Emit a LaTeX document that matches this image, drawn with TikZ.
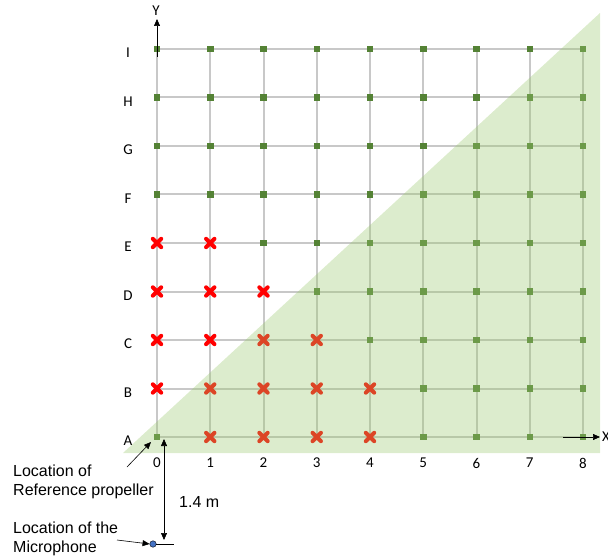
\documentclass[tikz,border=0pt]{standalone}
\usepackage{fontspec}
\setmainfont{Carlito}
\newfontfamily\arialf{Liberation Sans}
\usetikzlibrary{arrows.meta}
\definecolor{gridgray}{RGB}{200,200,200}
\definecolor{ptgreen}{RGB}{84,130,53}
\definecolor{trigreen}{RGB}{155,200,111}
\definecolor{xred}{RGB}{255,0,0}
\definecolor{micblue}{RGB}{68,114,196}
\tikzset{
  gridline/.style={draw=gridgray, line width=2pt},
  gpt/.style={rectangle, fill=ptgreen, minimum size=6.5pt, inner sep=0pt},
  xbox/.style={rectangle, inner sep=0pt, minimum size=8pt},
  xstroke/.style={draw=xred, line width=4pt, line cap=round},
  axislbl/.style={font=\fontsize{15}{17}\selectfont},
  annot/.style={font=\arialf\fontsize{16}{19}\selectfont, anchor=base west, inner sep=0pt},
  arr/.style={draw=black, line width=0.6pt, -{Triangle[length=7pt,width=6pt]}},
}
\begin{document}
\begin{tikzpicture}[x=1pt,y=-1pt]
\useasboundingbox (0,0) rectangle (608,556);
% grid coordinates
\foreach \c in {0,...,8}{
  \foreach \r in {0,...,8}{
    \coordinate (p-\c-\r) at ({157+53.25*\c},{437-48.5*\r});
  }
}
% grid lines
\foreach \c in {0,...,8}{ \draw[gridline] (p-\c-0) -- (p-\c-8); }
\foreach \r in {0,...,8}{ \draw[gridline] (p-0-\r) -- (p-8-\r); }
% green points
\foreach \c/\r in {0/0,5/0,6/0,7/0,8/0,
  5/1,6/1,7/1,8/1,
  4/2,5/2,6/2,7/2,8/2,
  3/3,4/3,5/3,6/3,7/3,8/3,
  2/4,3/4,4/4,5/4,6/4,7/4,8/4}{
  \node[gpt] (g-\c-\r) at (p-\c-\r) {};
}
\foreach \r in {5,6,7,8}{
  \foreach \c in {0,...,8}{ \node[gpt] (g-\c-\r) at (p-\c-\r) {}; }
}
% red crosses
\foreach \c/\r in {0/4,1/4,0/3,1/3,2/3,0/2,1/2,2/2,3/2,0/1,1/1,2/1,3/1,4/1,1/0,2/0,3/0,4/0}{
  \node[xbox] (x-\c-\r) at (p-\c-\r) {};
  \draw[xstroke] (x-\c-\r.north west) -- (x-\c-\r.south east)
                 (x-\c-\r.north east) -- (x-\c-\r.south west);
}
% shaded triangle
\coordinate (t1) at (123,453);
\coordinate (t2) at (600,453);
\coordinate (t3) at (600,13);
\fill[fill=trigreen, fill opacity=0.35] (t1) -- (t2) -- (t3) -- cycle;
% axes
\coordinate (ybot) at (157,57);
\coordinate (ytop) at (157,19);
\draw[arr] (ybot) -- (ytop);
\node[axislbl] (ylbl) at (156,11) {Y};
\coordinate (xl) at (563,437);
\coordinate (xr) at (600,437);
\draw[arr] (xl) -- (xr);
\node[axislbl, anchor=west, inner sep=1pt] (xlbl) at (601,437) {X};
% row labels
\foreach \r/\l in {0/A,1/B,2/C,3/D,4/E,5/F,6/G,7/H,8/I}{
  \node[axislbl] (rl-\r) at (128,{441-48.5*\r}) {\l};
}
% column labels
\foreach \c in {0,...,8}{
  \node[axislbl] (cl-\c) at ({157+53.25*\c},463) {\c};
}
% reference propeller annotation
\node[annot] (prop1) at (13,476) {Location of};
\node[annot] (prop2) at (13,495) {Reference propeller};
\coordinate (propTail) at (127,467);
\coordinate (propHead) at (151,442);
\draw[arr] (propTail) -- (propHead);
% microphone
\node[circle, fill=micblue, draw=black, line width=0.4pt, minimum size=6.5pt, inner sep=0pt] (mic) at (153,544) {};
\coordinate (micLineEnd) at (174,544);
\draw[line width=0.6pt] (mic) -- (micLineEnd);
\node[annot] (mic1) at (13,533) {Location of the};
\node[annot] (mic2) at (13,552) {Microphone};
\coordinate (micTail) at (117,540);
\draw[arr] (micTail) -- (mic.west);
% distance
\coordinate (dTop) at (164,439);
\coordinate (dBot) at (164,540);
\draw[draw=black, line width=0.6pt, {Triangle[length=7pt,width=6pt]}-{Triangle[length=7pt,width=6pt]}] (dTop) -- (dBot);
\node[annot] (dist) at (179,507) {1.4 m};
\end{tikzpicture}
\end{document}
